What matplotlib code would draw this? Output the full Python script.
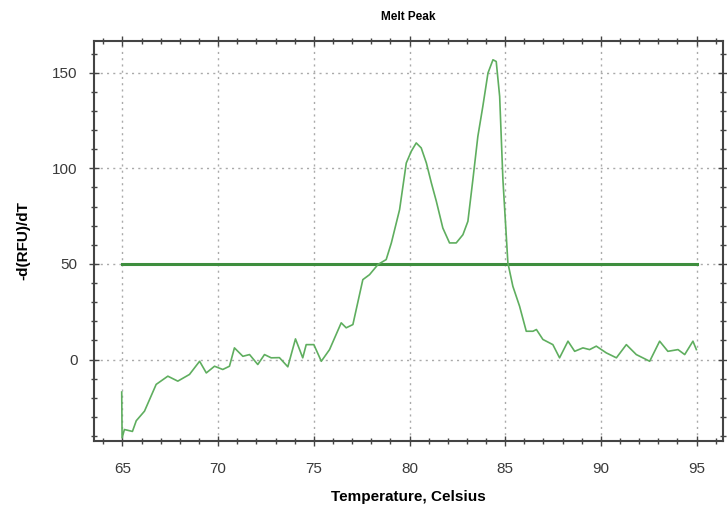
import matplotlib.pyplot as plt
from matplotlib.ticker import MultipleLocator

plt.rcParams['font.family'] = ['Liberation Sans', 'DejaVu Sans']

# melt curve
temp = [64.96, 64.98, 65.1, 65.52, 65.72, 66.15, 66.76, 67.37, 67.89, 68.5,
        69.03, 69.38, 69.81, 70.24, 70.59, 70.85, 71.29, 71.64, 72.07, 72.42,
        72.77, 73.2, 73.64, 74.04, 74.42, 74.6, 75.0, 75.39, 75.82, 76.43,
        76.69, 77.04, 77.56, 77.91, 78.35, 78.78, 79.05, 79.48, 79.83, 80.09,
        80.35, 80.61, 80.88, 81.14, 81.4, 81.74, 82.09, 82.44, 82.79, 83.05,
        83.31, 83.57, 83.83, 84.1, 84.36, 84.53, 84.71, 84.88, 85.14, 85.4,
        85.75, 86.1, 86.45, 86.63, 86.97, 87.49, 87.84, 88.28, 88.63, 89.06,
        89.41, 89.76, 90.28, 90.81, 91.33, 91.85, 92.55, 93.07, 93.5, 94.03,
        94.38, 94.81, 94.99]
dfdt = [-17, -41, -36.6, -37.6, -32, -27, -13, -8.7, -11.3, -7.8,
        -0.9, -7, -3.5, -5.2, -3.5, 6.1, 1.7, 2.6, -2.6, 2.6,
        0.9, 1, -3.8, 10.8, 0.9, 7.8, 7.8, -0.9, 5.2, 19.2,
        16.6, 18.3, 41.8, 44.4, 49.7, 52.3, 61, 78.4, 102.8, 108.9,
        113.3, 110.7, 102.8, 92.4, 82.8, 68.8, 61, 61, 65.3, 72.3,
        94.1, 116.7, 132.4, 149.9, 156.8, 155.9, 137.6, 94.1, 50.5, 38.3,
        27.9, 14.8, 14.8, 15.7, 10.5, 7.8, 0.9, 9.6, 4.3, 6.1,
        5.2, 7, 3.5, 0.9, 7.8, 2.6, -0.9, 9.6, 4.3, 5.2,
        2.6, 9.6, 5.2]

threshold = 50
thr_range = [65, 95]

fig = plt.figure(figsize=(7.27, 5.09), dpi=100)
ax = fig.add_axes([0.129, 0.134, 0.866, 0.785])

ax.plot(thr_range, [threshold, threshold], color='#3e8e3e', lw=2.2)
ax.plot(temp, dfdt, color='#5fae5f', lw=1.2)

ax.set_xlim(63.5, 96.4)
ax.set_ylim(-42.5, 166.5)
ax.xaxis.set_major_locator(MultipleLocator(5))
ax.xaxis.set_minor_locator(MultipleLocator(1))
ax.yaxis.set_major_locator(MultipleLocator(50))
ax.yaxis.set_minor_locator(MultipleLocator(10))
ax.tick_params(which='both', direction='inout', top=True, right=True,
               color='#444444', width=1, labelsize=11, labelcolor='#3a3a3a')
ax.tick_params(which='major', length=7)
ax.tick_params(which='minor', length=5)
ax.tick_params(axis='x', pad=12)
ax.tick_params(axis='y', pad=8)
ax.grid(True, which='major', linestyle=(0, (1.5, 3)), color='#aaaaaa', lw=1)

for s in ax.spines.values():
    s.set_color('#444444')
    s.set_linewidth(1.5)

ax.set_title('Melt Peak', fontsize=8.5, fontweight='bold', pad=15)
ax.set_xlabel('Temperature, Celsius', fontsize=11, fontweight='bold', labelpad=10)
ax.set_ylabel('-d(RFU)/dT', fontsize=11, fontweight='bold', labelpad=16)

fig.savefig('out.png', dpi=100)
